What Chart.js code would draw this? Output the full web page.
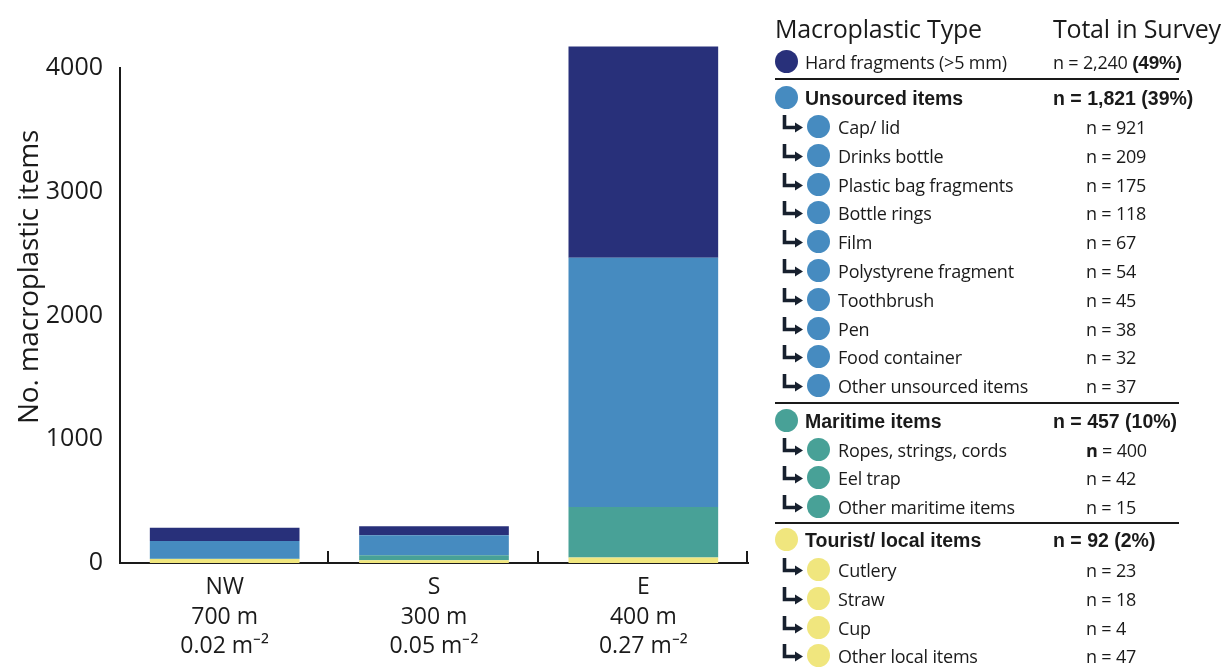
<!DOCTYPE html>
<html>
<head>
<meta charset="utf-8">
<script src="https://cdn.jsdelivr.net/npm/chart.js@4"></script>
<style>
  body{margin:0;background:#fff;width:1225px;height:667px;overflow:hidden;position:relative;font-family:"Open Sans",sans-serif;color:#1a1a1a;}
  #chartBox{position:absolute;left:0;top:0;width:760px;height:667px;}
  #ytitle{position:absolute;left:27px;top:277px;transform:translate(-50%,-50%) rotate(-90deg);font-size:28px;white-space:nowrap;letter-spacing:-0.2px;}
  #legend{position:absolute;left:0;top:0;width:1225px;height:667px;pointer-events:none;}
  .hdr{position:absolute;top:28px;transform:translateY(-50%);font-size:25px;white-space:nowrap;letter-spacing:-0.2px;}
  .row{position:absolute;left:0;height:28px;line-height:28px;white-space:nowrap;}
  .dot{position:absolute;width:23px;height:23px;border-radius:50%;top:2px;}
  .lbl{position:absolute;font-size:18px;letter-spacing:-0.2px;}
  .lbl.b{font-family:"Liberation Sans",Arial,sans-serif;font-weight:bold;font-size:19.5px;letter-spacing:0;}
  .num{position:absolute;font-size:18px;letter-spacing:-0.2px;}
  .num.b{font-family:"Liberation Sans",Arial,sans-serif;font-weight:bold;font-size:19.5px;letter-spacing:0;}
  .sep{position:absolute;left:775px;width:404px;height:2px;background:#1a1a1a;}
  .arr{position:absolute;left:781px;top:1px;}
</style>
</head>
<body>
<div id="chartBox"><canvas id="chartCanvas"></canvas></div>
<div id="ytitle">No. macroplastic items</div>
<div id="legend"></div>
<script>
// ---------- DATA ----------
const sites = [["NW","700 m","0.02 m\u207B\u00B2"],["S","300 m","0.05 m\u207B\u00B2"],["E","400 m","0.27 m\u207B\u00B2"]];
const tourist = [32, 22, 44];
const maritime = [3, 40, 408];
const unsourced = [142, 162, 2014];
const hard = [108, 73, 1707];
const yTicks = [0, 1000, 2000, 3000, 4000];

const colNavy = "#28307a";
const colBlue = "#468bc0";
const colTeal = "#48a197";
const colYellow = "#f0e67e";

// legend table
const tableHead = ["Macroplastic Type", "Total in Survey"];
const groupNames = ["Hard fragments (>5 mm)", "Unsourced items", "Maritime items", "Tourist/ local items"];
const groupCounts = ["n = 2,240", "n = 1,821 (39%)", "n = 457 (10%)", "n = 92 (2%)"];
const unsourcedItems = ["Cap/ lid","Drinks bottle","Plastic bag fragments","Bottle rings","Film","Polystyrene fragment","Toothbrush","Pen","Food container","Other unsourced items"];
const unsourcedN = [921, 209, 175, 118, 67, 54, 45, 38, 32, 37];
const maritimeItems = ["Ropes, strings, cords","Eel trap","Other maritime items"];
const maritimeN = [400, 42, 15];
const touristItems = ["Cutlery","Straw","Cup","Other local items"];
const touristN = [23, 18, 4, 47];

// ---------- CHART ----------
const innerTicks = {
  id:'innerTicks',
  afterDraw(chart){
    const xs = chart.scales.x, ctx = chart.ctx;
    const n = chart.data.labels.length;
    const step = (xs.right - xs.left) / n;
    ctx.save();
    ctx.strokeStyle = "#1a1a1a";
    ctx.lineWidth = 2;
    for(let i=1;i<=n;i++){
      const x = Math.round(xs.left + i*step) - 1;
      ctx.beginPath();
      ctx.moveTo(x, xs.top);
      ctx.lineTo(x, xs.top - 12);
      ctx.stroke();
    }
    ctx.restore();
  }
};

function ds(label, data, color){
  return {label:label, data:data, backgroundColor:color, borderWidth:0, clip:false,
          barPercentage:0.715, categoryPercentage:1};
}

new Chart(document.getElementById("chartCanvas"),{
  type:'bar',
  data:{
    labels: sites,
    datasets:[
      ds(groupNames[3], tourist, colYellow),
      ds(groupNames[2], maritime, colTeal),
      ds(groupNames[1], unsourced, colBlue),
      ds(groupNames[0], hard, colNavy)
    ]
  },
  options:{
    responsive:true,
    maintainAspectRatio:false,
    animation:false,
    layout:{padding:{top:68,right:12,left:0,bottom:0}},
    plugins:{legend:{display:false},tooltip:{enabled:false}},
    scales:{
      x:{
        stacked:true,
        grid:{display:false},
        border:{display:true,color:"#1a1a1a",width:2},
        ticks:{color:"#1a1a1a",padding:2,font:{family:"Open Sans",size:23,lineHeight:1.28}},
        afterFit(s){ s.height = 104; }
      },
      y:{
        stacked:true,
        min:0,max:4000,
        afterBuildTicks(s){ s.ticks = yTicks.map(v=>({value:v})); },
        grid:{display:false},
        border:{display:true,color:"#1a1a1a",width:2},
        ticks:{color:"#1a1a1a",padding:9,font:{family:"Open Sans",size:25},callback:v=>String(v)},
        afterFit(s){ s.width = 120; }
      }
    }
  },
  plugins:[innerTicks]
});

// ---------- LEGEND TABLE ----------
const legend = document.getElementById("legend");
function el(cls, html, css){
  const d = document.createElement("div");
  d.className = cls;
  if(html !== null) d.innerHTML = html;
  Object.assign(d.style, css||{});
  legend.appendChild(d);
  return d;
}
const arrowSvg = '<svg width="26" height="19" viewBox="0 0 26 19"><path d="M3.5 0 V12.5 H15" fill="none" stroke="#17202e" stroke-width="3.6"/><path d="M14 7.5 L22 12.5 L14 17.5 Z" fill="#17202e"/></svg>';

el("hdr", tableHead[0], {left:"775px"});
el("hdr", tableHead[1], {left:"1053px"});

function groupRow(y, name, count, color, bold){
  const r = el("row", null, {top:(y-14)+"px"});
  const dot = document.createElement("div"); dot.className="dot";
  Object.assign(dot.style,{left:"775px",background:color}); r.appendChild(dot);
  const l = document.createElement("div"); l.className = bold ? "lbl b" : "lbl";
  l.style.left = "805px"; l.textContent = name; r.appendChild(l);
  const n = document.createElement("div"); n.className = bold ? "num b" : "num";
  n.style.left = "1053px"; n.innerHTML = count; r.appendChild(n);
}
function subRow(y, name, count, color, boldN){
  const r = el("row", null, {top:(y-14)+"px"});
  const a = document.createElement("div"); a.className="arr"; a.innerHTML = arrowSvg; r.appendChild(a);
  const dot = document.createElement("div"); dot.className="dot";
  Object.assign(dot.style,{left:"807px",background:color}); r.appendChild(dot);
  const l = document.createElement("div"); l.className="lbl";
  l.style.left = "838px"; l.textContent = name; r.appendChild(l);
  const n = document.createElement("div"); n.className="num";
  n.style.left = "1086px";
  n.innerHTML = boldN ? '<b>n</b> = ' + count : 'n = ' + count;
  r.appendChild(n);
}

groupRow(62, groupNames[0], groupCounts[0] + ' <b style="font-family:Liberation Sans,Arial;font-size:19px;">(49%)</b>', colNavy, false);
el("sep", null, {top:"78px"});
groupRow(98, groupNames[1], groupCounts[1], colBlue, true);
unsourcedItems.forEach((t,i)=> subRow(127 + i*28.8, t, unsourcedN[i], colBlue, false));
el("sep", null, {top:"402px"});
groupRow(421, groupNames[2], groupCounts[2], colTeal, true);
maritimeItems.forEach((t,i)=> subRow(450 + i*28.3, t, maritimeN[i], colTeal, i===0));
el("sep", null, {top:"522px"});
groupRow(540, groupNames[3], groupCounts[3], colYellow, true);
touristItems.forEach((t,i)=> subRow(570 + i*28.8, t, touristN[i], colYellow, false));
</script>
</body>
</html>
